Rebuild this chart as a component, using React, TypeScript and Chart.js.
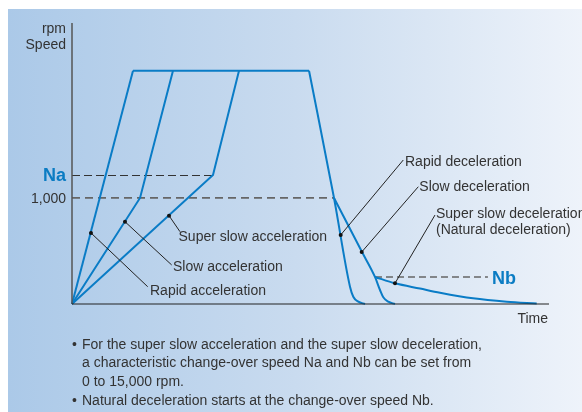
import React, { useEffect, useRef } from "react";
import { Chart, registerables } from "chart.js";

Chart.register(...registerables);

// ---- data (time units, speed in rpm) ----
const PLATEAU = 2200;
const NA = 1216;
const NB = 255;
const SPEED_1000 = 1000;
const Y_MAX = 2650;
const X_MAX = 100;

const rapidAccel = [[0, 0], [12.79, PLATEAU]];
const slowAccel = [[0, 0], [14.26, SPEED_1000], [21.17, PLATEAU]];
const superSlowAccel = [[0, 0], [29.56, NA], [35.01, PLATEAU]];
const plateau = [[12.79, PLATEAU], [49.69, PLATEAU]];
const rapidDecel = [[49.69, PLATEAU], [54.93, SPEED_1000], [58.28, 163], [58.97, 69], [60.02, 22], [61.43, 0]];
const slowDecel = [[54.93, SPEED_1000], [60.8, 490], [63.52, NB], [64.57, 132], [65.26, 63], [66.31, 22], [67.71, 0]];
const superSlowDecel = [[63.52, NB], [67.71, 195], [72.96, 146], [77.15, 107], [84.07, 54], [91.13, 22], [97.42, 5]];

const yTickLabels = ["1,000"];
const yTickValues = [SPEED_1000];

// leader annotations: dot on curve, end of leader, text anchor (data units)
const annotations = [
  { text: ["Rapid acceleration"], dot: [3.98, 670], end: [15.87, 163], at: [16.35, 123] },
  { text: ["Slow acceleration"], dot: [11.11, 776], end: [20.9, 368], at: [21.17, 349] },
  { text: ["Super slow acceleration"], dot: [20.34, 833], end: [22.64, 682], at: [22.33, 632] },
  { text: ["Rapid deceleration"], dot: [56.33, 651], end: [69.45, 1358], at: [69.81, 1342] },
  { text: ["Slow deceleration"], dot: [60.73, 490], end: [72.6, 1106], at: [72.81, 1101] },
  { text: ["Super slow deceleration", "(Natural deceleration)"], dot: [67.71, 195], end: [76.1, 839], at: [76.31, 849] },
];

const footnotes = [
  { bullet: true, text: "For the super slow acceleration and the super slow deceleration," },
  { bullet: false, text: "a characteristic change-over speed Na and Nb can be set from" },
  { bullet: false, text: "0 to 15,000 rpm." },
  { bullet: true, text: "Natural deceleration starts at the change-over speed Nb." },
];

const BLUE = "#0a7cc6";
const LABEL_BLUE = "#0b7cc3";
const TEXT = "#333333";
const FONT = "'Liberation Sans', Arial, sans-serif";

const toPts = (a: number[][]) => a.map(([x, y]) => ({ x, y }));

export default function App() {
  const ref = useRef<HTMLCanvasElement | null>(null);

  useEffect(() => {
    const canvas = ref.current;
    if (!canvas) return;

    const mk = (data: number[][], curve = false) => ({
      data: toPts(data),
      showLine: true,
      borderColor: BLUE,
      borderWidth: 2,
      pointRadius: 0,
      fill: false,
      clip: false as any,
      cubicInterpolationMode: curve ? ("monotone" as const) : ("default" as const),
      tension: 0,
    });

    const decorPlugin = {
      id: "decor",
      beforeDraw(chart: any) {
        const ctx = chart.ctx;
        ctx.save();
        ctx.fillStyle = "#ffffff";
        ctx.fillRect(0, 0, chart.width, chart.height);
        const g = ctx.createLinearGradient(8, 0, 582, 0);
        g.addColorStop(0, "#abc9e8");
        g.addColorStop(0.5, "#c9dbef");
        g.addColorStop(1, "#eef3fa");
        ctx.fillStyle = g;
        ctx.fillRect(8, 9, 574, 403);
        ctx.restore();
      },
      beforeDatasetsDraw(chart: any) {
        const ctx = chart.ctx;
        const xs = chart.scales.x;
        const ys = chart.scales.y;
        const X = (v: number) => xs.getPixelForValue(v);
        const Y = (v: number) => ys.getPixelForValue(v);
        ctx.save();
        // Na dashed
        ctx.strokeStyle = "#333333";
        ctx.lineWidth = 1.2;
        ctx.setLineDash([8, 4]);
        ctx.beginPath();
        ctx.moveTo(X(0), Math.round(Y(NA)) + 0.5);
        ctx.lineTo(X(superSlowAccel[1][0]), Math.round(Y(NA)) + 0.5);
        ctx.stroke();
        // 1000 dashed
        ctx.strokeStyle = "#666666";
        ctx.lineWidth = 1.8;
        ctx.setLineDash([8, 5]);
        ctx.beginPath();
        ctx.moveTo(X(0), Y(SPEED_1000));
        ctx.lineTo(X(slowDecel[0][0]), Y(SPEED_1000));
        ctx.stroke();
        // Nb dashed
        ctx.strokeStyle = "#666666";
        ctx.lineWidth = 1.5;
        ctx.setLineDash([7, 4]);
        ctx.beginPath();
        ctx.moveTo(X(superSlowDecel[0][0]), Y(NB));
        ctx.lineTo(X(87.2), Y(NB));
        ctx.stroke();
        ctx.restore();
      },
      afterDatasetsDraw(chart: any) {
        const ctx = chart.ctx;
        const xs = chart.scales.x;
        const ys = chart.scales.y;
        const X = (v: number) => xs.getPixelForValue(v);
        const Y = (v: number) => ys.getPixelForValue(v);
        const area = chart.chartArea;
        ctx.save();
        // axes
        ctx.strokeStyle = "#555555";
        ctx.lineWidth = 1.5;
        ctx.beginPath();
        ctx.moveTo(area.left, area.top);
        ctx.lineTo(area.left, area.bottom);
        ctx.stroke();
        ctx.strokeStyle = "#222222";
        ctx.lineWidth = 1.2;
        ctx.beginPath();
        ctx.moveTo(area.left, area.bottom);
        ctx.lineTo(area.right, area.bottom);
        ctx.stroke();

        // axis texts
        ctx.fillStyle = TEXT;
        ctx.font = `14px ${FONT}`;
        ctx.textAlign = "right";
        ctx.textBaseline = "middle";
        ctx.fillText("rpm", area.left - 6, 29);
        ctx.fillText("Speed", area.left - 6, 45);
        yTickValues.forEach((v, i) => ctx.fillText(yTickLabels[i], area.left - 6, Y(v) + 1));
        ctx.textAlign = "right";
        ctx.fillText("Time", area.right - 1, area.bottom + 15);

        ctx.fillStyle = LABEL_BLUE;
        ctx.font = `bold 18px ${FONT}`;
        ctx.textAlign = "right";
        ctx.fillText("Na", area.left - 6, Y(NA) + 1);
        ctx.textAlign = "left";
        ctx.fillText("Nb", X(87.2) + 4, Y(NB) + 2);

        // leaders
        annotations.forEach((a) => {
          const dx = X(a.dot[0]);
          const dy = Y(a.dot[1]);
          ctx.strokeStyle = "#222222";
          ctx.lineWidth = 1;
          ctx.beginPath();
          ctx.moveTo(dx, dy);
          ctx.lineTo(X(a.end[0]), Y(a.end[1]));
          ctx.stroke();
          ctx.fillStyle = "#111111";
          ctx.beginPath();
          ctx.arc(dx, dy, 2, 0, Math.PI * 2);
          ctx.fill();
          ctx.fillStyle = TEXT;
          ctx.font = `14px ${FONT}`;
          ctx.textAlign = "left";
          ctx.textBaseline = "middle";
          a.text.forEach((t, i) => ctx.fillText(t, X(a.at[0]), Y(a.at[1]) + i * 16));
        });

        // footnotes
        ctx.fillStyle = TEXT;
        ctx.font = `14px ${FONT}`;
        ctx.textAlign = "left";
        ctx.textBaseline = "middle";
        const lineYs = [345, 363, 382, 401];
        footnotes.forEach((f, i) => {
          if (f.bullet) ctx.fillText("•", 72, lineYs[i]);
          ctx.fillText(f.text, 82, lineYs[i]);
        });
        ctx.restore();
      },
    };

    const chart = new Chart(canvas, {
      type: "scatter",
      data: {
        datasets: [
          mk(rapidAccel),
          mk(slowAccel),
          mk(superSlowAccel),
          mk(plateau),
          mk(rapidDecel, true),
          mk(slowDecel, true),
          mk(superSlowDecel, true),
        ] as any,
      },
      options: {
        animation: false,
        responsive: false,
        devicePixelRatio: 1,
        layout: { padding: { left: 72, top: 23, right: 33, bottom: 108 } },
        plugins: { legend: { display: false }, tooltip: { enabled: false }, title: { display: false } },
        scales: {
          x: { type: "linear", min: 0, max: X_MAX, display: false },
          y: { type: "linear", min: 0, max: Y_MAX, display: false },
        },
        events: [],
      },
      plugins: [decorPlugin],
    });
    return () => chart.destroy();
  }, []);

  return (
    <canvas
      ref={ref}
      width={582}
      height={412}
      style={{ position: "fixed", left: 0, top: 0, width: 582, height: 412 }}
    />
  );
}
